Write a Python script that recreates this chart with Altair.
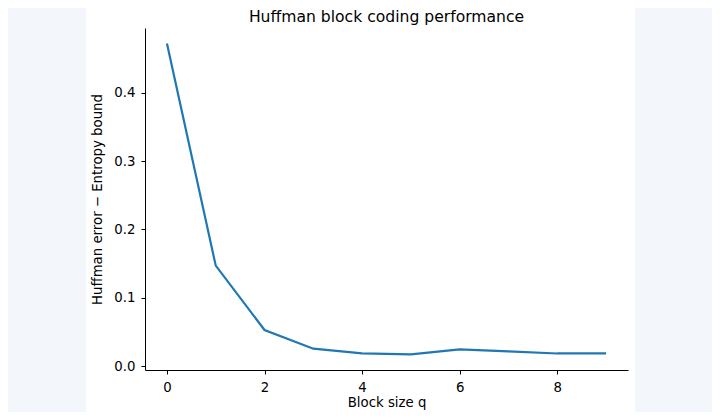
import altair as alt
import pandas as pd

block_size = [0, 1, 2, 3, 4, 5, 6, 7, 8, 9]
gap = [0.4722, 0.1470, 0.0528, 0.0254, 0.0186, 0.0171, 0.0243, 0.0216, 0.0184, 0.0185]

df = pd.DataFrame({'q': block_size, 'gap': gap})

W, H = 483, 342
AZUL = '#f3f7fb'

# light blue strips left and right of the white figure
franja_izq = alt.Chart(pd.DataFrame({'a': [0]})).mark_rect(color=AZUL).encode(
    x=alt.value(-137), x2=alt.value(-59),
    y=alt.value(-20), y2=alt.value(384)
)
franja_der = alt.Chart(pd.DataFrame({'a': [0]})).mark_rect(color=AZUL).encode(
    x=alt.value(490), x2=alt.value(567),
    y=alt.value(-20), y2=alt.value(384)
)

linea = alt.Chart(df).mark_line(color='#1f77b4', strokeWidth=2.2).encode(
    x=alt.X('q:Q', title='Block size q',
            scale=alt.Scale(domain=[-0.45, 9.45], nice=False, zero=False),
            axis=alt.Axis(values=[0, 2, 4, 6, 8], format='d', titlePadding=2)),
    y=alt.Y('gap:Q', title='Huffman error − Entropy bound',
            scale=alt.Scale(domain=[-0.0058, 0.4950], nice=False, zero=False),
            axis=alt.Axis(values=[0, 0.1, 0.2, 0.3, 0.4], format='.1f', titlePadding=9))
)

# the strips push the title up, dy brings it back under the top edge
chart = alt.layer(franja_izq, franja_der, linea).properties(
    width=W,
    height=H,
    title=alt.TitleParams('Huffman block coding performance', fontSize=15.6,
                          fontWeight='normal', font='DejaVu Sans', color='black',
                          anchor='middle', frame='group', offset=7, dy=25),
    autosize=alt.AutoSizeParams(type='none'),
    padding={'left': 137, 'top': 20, 'right': 84, 'bottom': 42},
    background='white'
).configure_view(
    stroke=None
).configure_axis(
    grid=False,
    domainColor='black',
    domainWidth=1,
    tickColor='black',
    tickWidth=1,
    tickSize=4,
    labelPadding=6,
    labelFont='DejaVu Sans',
    labelFontSize=13.3,
    labelColor='black',
    titleFont='DejaVu Sans',
    titleFontSize=13.3,
    titleFontWeight='normal',
    titleColor='black'
)

chart.save("out.html", embed_options={"renderer": "svg", "actions": False})
